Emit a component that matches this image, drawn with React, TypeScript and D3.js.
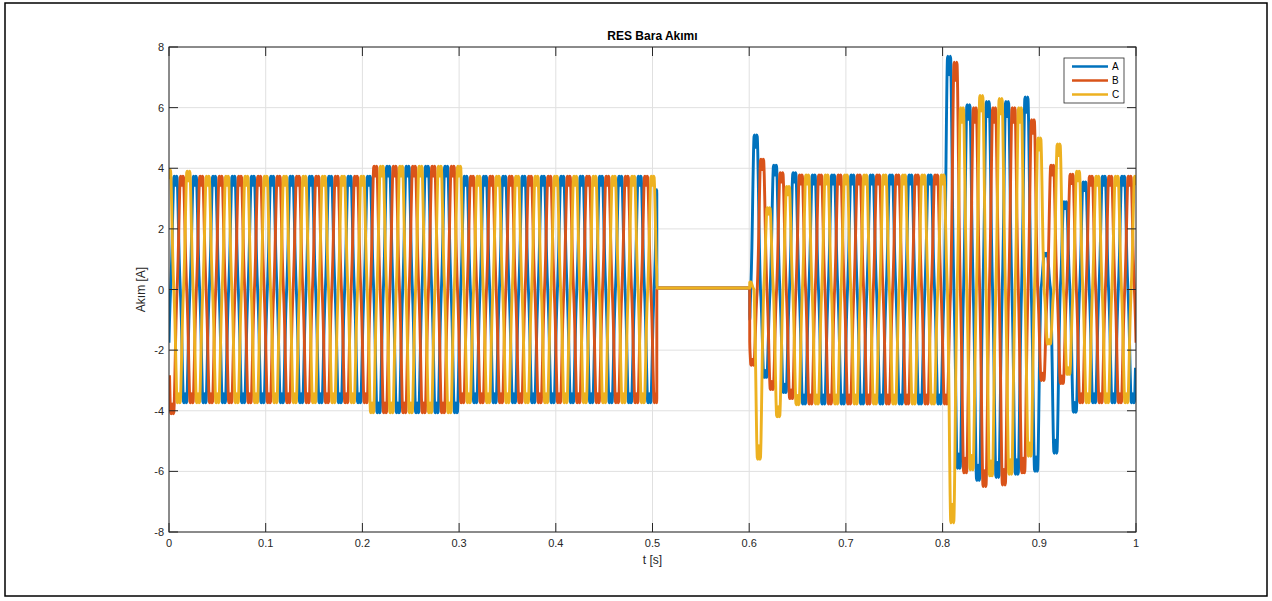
import React from "react";
import * as d3 from "d3";

// ---- data ----
const phaseNames = ["A", "B", "C"];
const phaseColors = ["#0072BD", "#D95319", "#EDB120"];
const PERIOD = 0.02; // 50 Hz
const firstPositivePeak = [0.00667, 0.01333, 0.0]; // time of a positive peak for A, B, C

// one half-cycle of the waveform, normalised (notched, harmonic-distorted top)
const halfWaveShape = [0, 0.12, 0.27, 0.47, 0.69, 0.88, 0.99, 1.0, 0.95, 0.92, 0.95, 1.0, 0.99, 0.88, 0.69, 0.47, 0.27, 0.12, 0];

// steady-state peak amplitude envelope
const envelopeStart = [0.0, 0.208, 0.303, 0.6, 0.935];
const envelopeAmp = [3.74, 4.07, 3.74, 3.78, 3.74];

// breaker-open interval
const offStart = 0.5045;
const offEnd = 0.6005;
const offValue = 0.05;

const peaksA: [number, number][] = [
  [0.6067, 5.1], [0.6167, -2.9], [0.6267, 4.1], [0.6367, -3.4], [0.6467, 3.85],
  [0.8067, 7.7], [0.8167, -5.9], [0.8267, 6.1], [0.8367, -6.3], [0.8467, 6.2],
  [0.8567, -6.2], [0.8667, 6.2], [0.8767, -6.1], [0.8867, 6.35], [0.8967, -6.0],
  [0.9067, 1.2], [0.9167, -5.4], [0.9267, 2.9], [0.9367, -4.05], [0.9467, 3.55],
];
const peaksB: [number, number][] = [
  [0.0033, -4.1],
  [0.6033, -2.5], [0.6133, 4.3], [0.6233, -3.3], [0.6333, 3.85], [0.6433, -3.6],
  [0.8133, 7.5], [0.8233, -6.05], [0.8333, 6.0], [0.8433, -6.5], [0.8533, 6.0],
  [0.8633, -6.45], [0.8733, 6.0], [0.8833, -6.05], [0.8933, 5.6], [0.9033, -3.0],
  [0.9133, 4.1], [0.9233, -3.1], [0.9333, 3.8],
];
const peaksC: [number, number][] = [
  [0.0, 3.95], [0.02, 3.9],
  [0.6, 0.25], [0.61, -5.6], [0.62, 2.7], [0.63, -4.2], [0.64, 3.4], [0.65, -3.8],
  [0.81, -7.7], [0.82, 6.0], [0.83, -5.95], [0.84, 6.4], [0.85, -6.15],
  [0.86, 6.3], [0.87, -6.1], [0.88, 6.0], [0.89, -5.5], [0.9, 5.0],
  [0.91, -1.8], [0.92, 4.8], [0.93, -2.8], [0.94, 3.9],
];
const transientPeaks = [peaksA, peaksB, peaksC];

const xTicks = [0, 0.1, 0.2, 0.3, 0.4, 0.5, 0.6, 0.7, 0.8, 0.9, 1];
const yTicks = [-8, -6, -4, -2, 0, 2, 4, 6, 8];
const xTickLabels = ["0", "0.1", "0.2", "0.3", "0.4", "0.5", "0.6", "0.7", "0.8", "0.9", "1"];
const yTickLabels = ["-8", "-6", "-4", "-2", "0", "2", "4", "6", "8"];

const title = "RES Bara Akımı";
const xLabel = "t [s]";
const yLabel = "Akım [A]";

// ---- layout ----
const W = 1272;
const H = 601;
const plot = { left: 169, right: 1136, top: 47, bottom: 532 };
const FONT = "'Liberation Sans', Arial, Helvetica, sans-serif";
const AX = "#262626";

function envelopeAt(t: number) {
  let a = envelopeAmp[0];
  for (let i = 0; i < envelopeStart.length; i++) if (t >= envelopeStart[i] - 1e-9) a = envelopeAmp[i];
  return a;
}

function buildSeries(p: number): [number, number][] {
  const half = PERIOD / 2;
  const pts: [number, number][] = [];
  const n = halfWaveShape.length;
  for (let k = -3; k <= 105; k++) {
    const center = firstPositivePeak[p] + k * half;
    const sign = k % 2 === 0 ? 1 : -1;
    let value = sign * envelopeAt(center);
    const ov = transientPeaks[p].find((o) => Math.abs(o[0] - center) < 0.003);
    if (ov) value = ov[1];
    for (let i = 1; i < n; i++) {
      const t = center - half / 2 + (i / (n - 1)) * half;
      if (t < 0 || t > 1) continue;
      if (t > offStart && t < offEnd) continue;
      pts.push([t, value * halfWaveShape[i]]);
    }
  }
  pts.push([offStart, offValue]);
  pts.push([offEnd, offValue]);
  pts.sort((a, b) => a[0] - b[0]);
  return pts;
}

export default function App() {
  const x = d3.scaleLinear().domain([0, 1]).range([plot.left, plot.right]);
  const y = d3.scaleLinear().domain([-8, 8]).range([plot.bottom, plot.top]);
  const line = d3
    .line<[number, number]>()
    .x((d) => x(d[0]))
    .y((d) => y(d[1]))
    .curve(d3.curveMonotoneX);
  const series = phaseNames.map((_, p) => buildSeries(p));
  const tickLen = 9;
  const midX = (plot.left + plot.right) / 2;
  const midY = (plot.top + plot.bottom) / 2;

  const legend = { x: 1064, y: 58, w: 60, h: 45 };
  const legendRows = [66.5, 80.5, 94.5];

  return (
    <svg
      width={W}
      height={H}
      style={{ position: "fixed", left: 0, top: 0, background: "#fff" }}
      fontFamily={FONT}
    >
      <rect x={0} y={0} width={W} height={H} fill="#fff" />
      <rect x={5} y={3} width={1262} height={593} fill="none" stroke="#000" strokeWidth={1.5} />
      <defs>
        <clipPath id="plotClip">
          <rect x={plot.left} y={plot.top - 4} width={plot.right - plot.left} height={plot.bottom - plot.top + 8} />
        </clipPath>
      </defs>
      {/* grid */}
      {xTicks.map((t) => (
        <line key={"gx" + t} x1={x(t)} x2={x(t)} y1={plot.top} y2={plot.bottom} stroke="#e0e0e0" strokeWidth={1} />
      ))}
      {yTicks.map((t) => (
        <line key={"gy" + t} x1={plot.left} x2={plot.right} y1={y(t)} y2={y(t)} stroke="#e0e0e0" strokeWidth={1} />
      ))}
      {/* series */}
      <g clipPath="url(#plotClip)">
        {series.map((s, p) => (
          <path key={p} d={line(s) || ""} fill="none" stroke={phaseColors[p]} strokeWidth={2.9} strokeLinejoin="round" />
        ))}
      </g>
      {/* axes box */}
      <rect x={plot.left} y={plot.top} width={plot.right - plot.left} height={plot.bottom - plot.top} fill="none" stroke={AX} strokeWidth={1} />
      {xTicks.map((t, i) => (
        <g key={"xt" + t}>
          <line x1={x(t)} x2={x(t)} y1={plot.bottom} y2={plot.bottom - tickLen} stroke={AX} />
          <line x1={x(t)} x2={x(t)} y1={plot.top} y2={plot.top + tickLen} stroke={AX} />
          <text x={x(t)} y={547} textAnchor="middle" fontSize={11} fill={AX}>
            {xTickLabels[i]}
          </text>
        </g>
      ))}
      {yTicks.map((t, i) => (
        <g key={"yt" + t}>
          <line x1={plot.left} x2={plot.left + tickLen} y1={y(t)} y2={y(t)} stroke={AX} />
          <line x1={plot.right} x2={plot.right - tickLen} y1={y(t)} y2={y(t)} stroke={AX} />
          <text x={164} y={y(t) + 4} textAnchor="end" fontSize={11} fill={AX}>
            {yTickLabels[i]}
          </text>
        </g>
      ))}
      {/* labels */}
      <text x={midX} y={40} textAnchor="middle" fontSize={12} fontWeight="bold" fill="#000">
        {title}
      </text>
      <text x={midX} y={564} textAnchor="middle" fontSize={12} fill={AX}>
        {xLabel}
      </text>
      <text transform={`translate(${145},${midY}) rotate(-90)`} textAnchor="middle" fontSize={12} fill={AX}>
        {yLabel}
      </text>
      {/* legend */}
      <rect x={legend.x} y={legend.y} width={legend.w} height={legend.h} fill="#fff" stroke={AX} strokeWidth={0.8} />
      {phaseNames.map((name, p) => (
        <g key={"lg" + name}>
          <line x1={1072} x2={1108} y1={legendRows[p]} y2={legendRows[p]} stroke={phaseColors[p]} strokeWidth={2.5} />
          <text x={1112} y={legendRows[p] + 3.5} fontSize={10} fill="#000">
            {name}
          </text>
        </g>
      ))}
    </svg>
  );
}
